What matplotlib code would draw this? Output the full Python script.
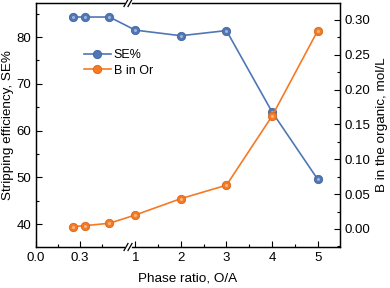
# Stripping efficiency and boron in the organic phase vs phase ratio (broken x axis)

import numpy as np
import matplotlib
matplotlib.use('Agg')
import matplotlib.pyplot as plt
from matplotlib.ticker import FixedLocator, MultipleLocator

plt.rcParams['font.family'] = ['Liberation Sans', 'DejaVu Sans']
plt.rcParams['font.size'] = 9

# data
ratio = [0.25, 1 / 3, 0.5, 1, 2, 3, 4, 5]
se = [84.3, 84.3, 84.3, 81.5, 80.3, 81.4, 64.0, 49.6]
b_org = [0.0033, 0.0047, 0.0082, 0.020, 0.0435, 0.0628, 0.162, 0.2845]
xticks = [0, 0.3, 1, 2, 3, 4, 5]
xticklabels = ['0.0', '0.3', '1', '2', '3', '4', '5']
xminor = [0.15, 0.45, 1.5, 2.5, 3.5, 4.5]

blue = '#4f77b5'
orange = '#f47a26'

# piecewise scale: 0-0.626 stretched, then jump to 0.85 and linear after
kx = np.array([-10, 0, 0.626, 0.85, 100])
kp = np.array([-32.2, 0, 0.626 * 3.22, 0.626 * 3.22 + 0.01, 0.626 * 3.22 + 0.01 + 99.15])


def fwd(x):
    return np.interp(x, kx, kp)


def inv(p):
    return np.interp(p, kp, kx)


fig = plt.figure(figsize=(3.9, 2.88), dpi=100)
ax = fig.add_axes([36 / 390, 41 / 288, 304 / 390, 244 / 288])
ax.set_xscale('function', functions=(fwd, inv))
ax2 = ax.twinx()

l1, = ax.plot(ratio, se, color=blue, lw=1.2, marker='o', ms=6,
              mfc=blue, mec='#44679f', mew=0.6, label='SE%')
l2, = ax2.plot(ratio, b_org, color=orange, lw=1.2, marker='o', ms=6,
               mfc=orange, mec='#d8661a', mew=0.6, label='B in Or')
# faint highlight to give the balls a shiny look
ax.plot(ratio, se, ls='none', marker='o', ms=2.2, mfc='#9fb5d8', mec='none')
ax2.plot(ratio, b_org, ls='none', marker='o', ms=2.2, mfc='#f9b583', mec='none')

ax.set_xlim(0, 5.49)
ax.set_ylim(35.1, 87.3)
ax2.set_ylim(-0.0259, 0.3244)

ax.xaxis.set_major_locator(FixedLocator(xticks))
ax.set_xticklabels(xticklabels)
ax.xaxis.set_minor_locator(FixedLocator(xminor))
ax.yaxis.set_major_locator(MultipleLocator(10))
ax.yaxis.set_minor_locator(MultipleLocator(5))
ax2.yaxis.set_major_locator(MultipleLocator(0.05))
ax2.yaxis.set_minor_locator(MultipleLocator(0.025))
ax2.yaxis.set_major_formatter(plt.FormatStrFormatter('%.2f'))

for a in (ax, ax2):
    a.tick_params(which='both', direction='in', labelsize=9.5)
    a.tick_params(which='major', length=4, width=0.8)
    a.tick_params(which='minor', length=2.5, width=0.8)
    for s in a.spines.values():
        s.set_linewidth(0.9)

ax.set_xlabel('Phase ratio, O/A', fontsize=9.7, labelpad=6)
ax.set_ylabel('Stripping efficiency, SE%', fontsize=9.7, labelpad=2)
ax2.set_ylabel('B in the organic, mol/L', fontsize=9.7, labelpad=4)

# break marks on the bottom and top spines
xb = (128 - 36) / 304
gap = 2 / 304
dx, dy = 2 / 304, 3.5 / 244
for yb in (0, 1):
    ax2.plot([xb - gap, xb + gap], [yb, yb], color='white', lw=2,
             transform=ax2.transAxes, clip_on=False, zorder=5)
    for xs in (xb - gap, xb + gap):
        ax2.plot([xs - dx, xs + dx], [yb - dy, yb + dy], color='black', lw=0.9,
                 transform=ax2.transAxes, clip_on=False, zorder=6)

ax2.legend([l1, l2], ['SE%', 'B in Or'], loc='upper left',
           bbox_to_anchor=(0.14, 0.83), frameon=False, fontsize=9,
           handlelength=2.2, handletextpad=0.2, labelspacing=0.25,
           borderaxespad=0)

fig.savefig('out.png', dpi=100)
